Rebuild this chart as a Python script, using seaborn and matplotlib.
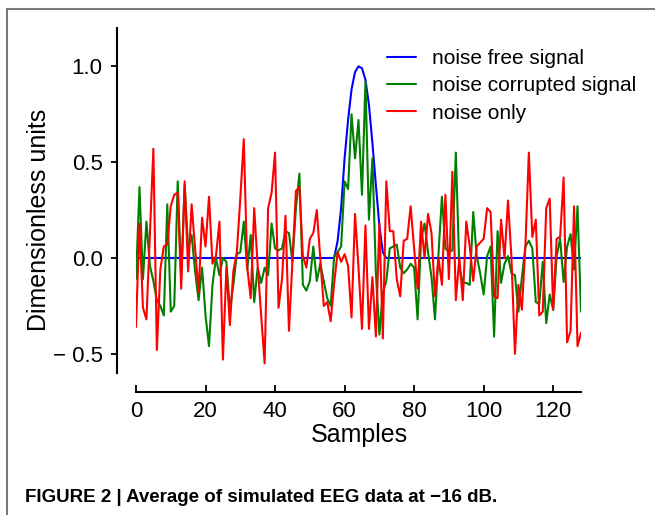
import numpy as np
import pandas as pd
import seaborn as sns
import matplotlib.pyplot as plt
from matplotlib.lines import Line2D

# sample index 0..128
samples = np.arange(129)

# noise free signal: flat with one bump around sample 64
clean = [0.0] * 57 + [0.0, 0.09, 0.26, 0.52, 0.72, 0.88, 0.97, 1.0, 0.99, 0.93,
                      0.80, 0.60, 0.38, 0.17, 0.03] + [0.0] * 57

noisy = [-0.11, 0.37, -0.11, 0.19, -0.04, -0.12, -0.22, -0.25, -0.30, 0.28,
         -0.28, -0.25, 0.40, -0.10, 0.38, 0.05, 0.12, -0.07, -0.22, -0.05,
         -0.30, -0.46, -0.14, 0.00, -0.09, 0.00, -0.02, -0.27, -0.14, 0.02,
         0.03, 0.19, -0.06, 0.12, -0.23, -0.05, -0.13, -0.05, -0.09, 0.18,
         0.05, 0.04, 0.05, 0.14, 0.13, -0.02, 0.26, 0.44, -0.14, -0.17,
         -0.12, 0.06, -0.12, -0.03, -0.12, -0.21, -0.25, 0.01, 0.03, 0.06,
         0.40, 0.36, 0.75, 0.52, 0.72, 0.33, 0.92, 0.20, 0.52, -0.08,
         -0.40, -0.18, -0.12, 0.05, 0.06, 0.07, -0.05, -0.08, -0.06, -0.03,
         -0.05, -0.32, 0.10, 0.18, 0.03, -0.10, -0.32, 0.02, 0.32, 0.05,
         0.03, 0.04, 0.55, -0.05, -0.13, -0.13, -0.14, 0.24, 0.01, -0.08,
         -0.19, 0.01, 0.06, -0.41, 0.14, -0.13, -0.03, 0.01, -0.08, -0.09,
         -0.28, -0.10, 0.06, 0.09, 0.05, -0.23, -0.24, -0.02, -0.34, -0.19,
         -0.27, 0.01, 0.10, -0.125, 0.06, 0.125, -0.06, 0.27, -0.28]

noise = [-0.36, 0.18, -0.26, -0.32, 0.12, 0.57, -0.48, -0.06, 0.06, 0.07,
         0.27, 0.33, 0.34, -0.16, 0.40, -0.07, 0.28, 0.05, -0.18, 0.21,
         0.06, 0.32, -0.03, 0.01, 0.19, -0.53, -0.05, -0.35, -0.07, 0.03,
         0.31, 0.62, -0.05, -0.21, 0.26, -0.04, -0.30, -0.55, 0.26, 0.34,
         0.55, -0.26, -0.11, 0.22, -0.38, -0.02, 0.35, 0.37, 0.01, -0.05,
         0.10, 0.13, 0.25, 0.00, -0.25, -0.23, -0.33, -0.13, 0.03, -0.02,
         0.02, -0.04, -0.31, 0.23, -0.05, -0.37, 0.17, -0.37, -0.10, -0.41,
         0.18, -0.42, 0.40, 0.14, 0.14, -0.11, -0.20, 0.09, 0.10, 0.27,
         0.05, -0.16, 0.19, 0.00, 0.23, 0.13, -0.20, 0.00, -0.14, 0.33,
         -0.11, 0.45, -0.22, 0.00, -0.22, 0.19, 0.06, -0.12, 0.06, 0.08,
         0.10, 0.26, 0.24, -0.20, -0.21, 0.20, 0.00, 0.30, 0.00, -0.50,
         -0.14, -0.27, 0.06, 0.55, 0.11, 0.20, -0.30, -0.28, 0.26, 0.31,
         -0.27, 0.10, 0.11, 0.42, -0.44, -0.38, 0.27, -0.46, -0.39]

series_labels = ['noise free signal', 'noise corrupted signal', 'noise only']
series_colors = ['#0000ff', '#008000', '#ff0000']
ytick_vals = [-0.5, 0.0, 0.5, 1.0]
ytick_text = ['\u2212 0.5', '0.0', '0.5', '1.0']
xtick_vals = [0, 20, 40, 60, 80, 100, 120]
caption = 'FIGURE 2 | Average of simulated EEG data at \u221216 dB.'

sns.set_style('ticks')
plt.rcParams['font.family'] = ['Liberation Sans', 'DejaVu Sans']
plt.rcParams['text.color'] = 'black'
plt.rcParams['axes.labelcolor'] = 'black'
plt.rcParams['xtick.color'] = 'black'
plt.rcParams['ytick.color'] = 'black'

W, H = 655, 515
fig = plt.figure(figsize=(W / 100, H / 100), dpi=100)
ax = fig.add_axes([136 / W, 1 - 373 / H, 445 / W, 345 / H])

for vals, lab, col in zip([clean, noisy, noise], series_labels, series_colors):
    sns.lineplot(x=samples, y=vals, color=col, lw=1.5, label=lab, ax=ax)

ax.set_xlim(0, 128)
ax.set_ylim(-0.6, 1.2)
ax.set_xticks(xtick_vals)
ax.set_yticks(ytick_vals)
ax.set_yticklabels(ytick_text)
ax.tick_params(axis='x', direction='in', length=5, width=1.3, pad=6, labelsize=16)
ax.tick_params(axis='y', direction='out', length=4, width=1.3, pad=6, labelsize=16)

for side in ['top', 'right']:
    ax.spines[side].set_visible(False)
for side in ['left', 'bottom']:
    ax.spines[side].set_position(('outward', 14))
    ax.spines[side].set_linewidth(1.5)
    ax.spines[side].set_color('black')

ax.set_xlabel('Samples', fontsize=18)
ax.set_ylabel('Dimensionless units', fontsize=18)
ax.xaxis.set_label_coords(0.503, -0.145)
ax.yaxis.set_label_coords(-0.19, 0.443)

ax.legend(loc='upper left', bbox_to_anchor=(387 / W, 1 - 49 / H),
          bbox_transform=fig.transFigure, frameon=False, fontsize=15,
          handlelength=1.4, handletextpad=0.75, labelspacing=0.4,
          borderpad=0, borderaxespad=0)

fig.text(25 / W, 1 - 502 / H, caption, fontsize=13.5, fontweight='bold',
         family=['Liberation Sans Narrow', 'Liberation Sans', 'DejaVu Sans'],
         ha='left', va='baseline')

# frame around the figure panel (top and left edges)
fig.add_artist(Line2D([7 / W, 1.0], [1 - 9 / H, 1 - 9 / H], color='#7a7a7a', lw=1.5,
                      transform=fig.transFigure))
fig.add_artist(Line2D([7 / W, 7 / W], [1 - 9 / H, 0.0], color='#7a7a7a', lw=1.5,
                      transform=fig.transFigure))

fig.savefig('out.png', dpi=100)
